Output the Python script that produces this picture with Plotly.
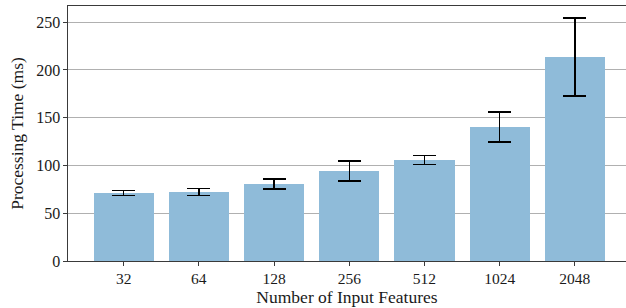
import plotly.graph_objects as go

categories = ["32", "64", "128", "256", "512", "1024", "2048"]
mean_ms = [71.2, 72.3, 80.6, 94.2, 105.8, 140.3, 213.6]
std_ms = [2.6, 3.7, 5.4, 10.5, 4.6, 15.7, 40.7]

FONT = "Liberation Serif, DejaVu Serif, serif"
SPINE = "#3a3a3a"

fig = go.Figure()
fig.add_trace(go.Bar(
    x=list(range(len(categories))),
    y=mean_ms,
    width=0.8,
    marker=dict(color="#8fbbd9", line=dict(width=0)),
    error_y=dict(type="data", array=std_ms, visible=True,
                 color="black", thickness=1.5, width=11.5),
    showlegend=False,
))

fig.update_layout(
    width=626, height=308,
    margin=dict(l=67.5, r=0, t=6, b=47),
    paper_bgcolor="white", plot_bgcolor="white",
    font=dict(family=FONT, size=15.5, color="#1a1a1a"),
    bargap=0,
)
fig.update_xaxes(
    range=[-0.74, 6.68],
    tickmode="array", tickvals=list(range(len(categories))), ticktext=categories,
    tickfont=dict(size=15.5),
    ticks="outside", ticklen=3.5, tickwidth=1, tickcolor=SPINE,
    showline=True, linecolor=SPINE, linewidth=1.3, mirror=True,
    showgrid=False, zeroline=False,
    title=dict(text="Number of Input Features", standoff=1, font=dict(size=17.5)),
)
fig.update_yaxes(
    range=[0, 267],
    tickvals=[0, 50, 100, 150, 200, 250],
    tickfont=dict(size=16),
    ticks="outside", ticklen=3.5, tickwidth=1, tickcolor=SPINE,
    showline=True, linecolor=SPINE, linewidth=1.3, mirror=False,
    showgrid=True, gridcolor="#b0b0b0", gridwidth=1,
    zeroline=False,
    title=dict(text="Processing Time (ms)", standoff=8, font=dict(size=17.5)),
)

fig.write_html(
    "out.html",
    config={"displayModeBar": False},
    post_script="document.body.style.margin='0';document.body.style.padding='0';",
)
